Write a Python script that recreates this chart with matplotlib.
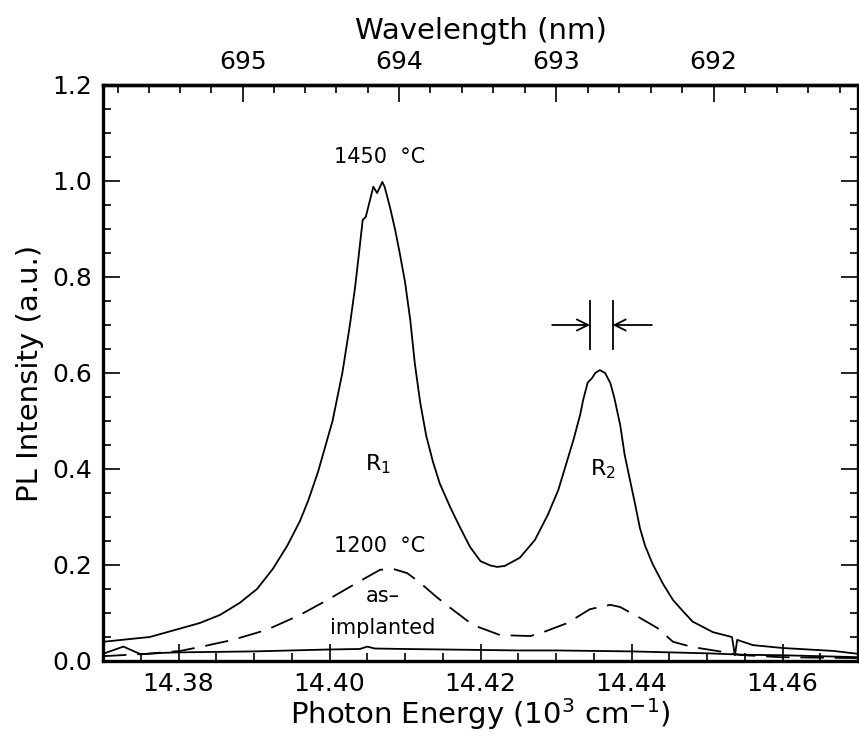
import matplotlib
matplotlib.use("Agg")
import matplotlib.pyplot as plt
from matplotlib.ticker import MultipleLocator, FixedLocator

# ---- data ----
E_1450 = [14.3700, 14.3762, 14.3828, 14.3855, 14.3881, 14.3904, 14.3925, 14.3944, 14.3961, 14.3972,
          14.3985, 14.4004, 14.4017, 14.4027, 14.4034, 14.4038, 14.4044, 14.4048, 14.4056, 14.4058,
          14.4063, 14.4070, 14.4073, 14.4080, 14.4087, 14.4093, 14.4100, 14.4107, 14.4113, 14.4120,
          14.4128, 14.4137, 14.4146, 14.4160, 14.4173, 14.4186, 14.4200, 14.4213,
          14.4222, 14.4232, 14.4252, 14.4272, 14.4289, 14.4303, 14.4313, 14.4323, 14.4332, 14.4336,
          14.4342, 14.4348, 14.4352, 14.4358, 14.4365, 14.4372, 14.4377, 14.4385, 14.4391, 14.4398,
          14.4405, 14.4411, 14.4418, 14.4428, 14.4442, 14.4455, 14.4468, 14.4481, 14.4508, 14.4533,
          14.4537, 14.4540, 14.4561, 14.4601, 14.4623, 14.4667, 14.4700]
I_1450 = [0.040, 0.050, 0.079, 0.096, 0.121, 0.150, 0.192, 0.240, 0.292, 0.335,
          0.395, 0.500, 0.600, 0.700, 0.780, 0.835, 0.919, 0.925, 0.975, 0.988,
          0.975, 0.998, 0.988, 0.946, 0.898, 0.850, 0.790, 0.710, 0.620, 0.540,
          0.470, 0.415, 0.370, 0.320, 0.278, 0.238, 0.208, 0.199,
          0.196, 0.198, 0.215, 0.252, 0.304, 0.356, 0.408, 0.460, 0.513, 0.544,
          0.580, 0.590, 0.600, 0.606, 0.600, 0.579, 0.550, 0.492, 0.429, 0.377,
          0.325, 0.278, 0.240, 0.202, 0.160, 0.127, 0.104, 0.082, 0.060, 0.050,
          0.012, 0.044, 0.033, 0.027, 0.025, 0.021, 0.015]

E_1200 = [14.370, 14.3758, 14.3802, 14.3828, 14.3872, 14.3917, 14.3961, 14.3997, 14.4031, 14.405,
          14.4067, 14.4084, 14.4103, 14.412, 14.4142, 14.4164, 14.419, 14.4226, 14.4266, 14.4283,
          14.4315, 14.4345, 14.4372, 14.4385, 14.4411, 14.4434, 14.4455, 14.4481, 14.4513, 14.4544,
          14.4597, 14.470]
I_1200 = [0.010, 0.015, 0.021, 0.029, 0.044, 0.065, 0.096, 0.127, 0.158, 0.175,
          0.190, 0.192, 0.183, 0.163, 0.133, 0.106, 0.075, 0.054, 0.052, 0.060,
          0.079, 0.108, 0.117, 0.1125, 0.090, 0.069, 0.040, 0.029, 0.021, 0.0125,
          0.008, 0.006]

E_asimp = [14.370, 14.3727, 14.375, 14.378, 14.380, 14.385, 14.390, 14.395, 14.400, 14.404,
           14.405, 14.406, 14.410, 14.415, 14.420, 14.425, 14.430, 14.435, 14.440, 14.445,
           14.450, 14.455, 14.460, 14.465, 14.470]
I_asimp = [0.015, 0.030, 0.014, 0.017, 0.018, 0.019, 0.020, 0.022, 0.024, 0.025,
           0.030, 0.026, 0.025, 0.024, 0.023, 0.022, 0.022, 0.021, 0.020, 0.018,
           0.016, 0.013, 0.012, 0.010, 0.008]

x_ticks = [14.38, 14.40, 14.42, 14.44, 14.46]
y_ticks = [0.0, 0.2, 0.4, 0.6, 0.8, 1.0, 1.2]
wl_ticks = [695, 694, 693, 692]

fs = 18
lfs = 21
plt.rcParams['font.family'] = ['DejaVu Sans']

fig = plt.figure(figsize=(8.59, 7.36), dpi=100)
ax = fig.add_axes([103/859, 75/736, 755/859, 576/736])

ax.plot(E_1450, I_1450, color='black', lw=1.3)
ax.plot(E_1200, I_1200, color='black', lw=1.3, linestyle=(0, (13, 6)))
ax.plot(E_asimp, I_asimp, color='black', lw=1.3)

ax.set_xlim(14.37, 14.47)
ax.set_ylim(0, 1.2)

ax.xaxis.set_major_locator(FixedLocator(x_ticks))
ax.xaxis.set_minor_locator(MultipleLocator(0.005))
ax.yaxis.set_major_locator(FixedLocator(y_ticks))
ax.yaxis.set_minor_locator(MultipleLocator(0.05))
ax.set_xticklabels([f"{v:.2f}" for v in x_ticks])
ax.set_yticklabels([f"{v:.1f}" for v in y_ticks])

ax.tick_params(which='both', direction='in', top=False, right=True, bottom=True, left=True,
               labelsize=fs, width=1.2)
ax.tick_params(which='major', length=12, pad=8)
ax.tick_params(which='minor', length=6)
for s in ax.spines.values():
    s.set_linewidth(2.4)

ax.set_xlabel("Photon Energy (10$^3$ cm$^{-1}$)", fontsize=lfs, labelpad=0)
ax.set_ylabel("PL Intensity (a.u.)", fontsize=lfs, labelpad=6)

sec = ax.secondary_xaxis('top', functions=(lambda e: 1e4 / e, lambda l: 1e4 / l))
sec.xaxis.set_major_locator(FixedLocator(wl_ticks))
sec.xaxis.set_minor_locator(MultipleLocator(0.2))
sec.tick_params(which='both', direction='in', labelsize=fs, width=1.2)
sec.tick_params(which='major', length=12, pad=8)
sec.tick_params(which='minor', length=6)
sec.set_xticklabels([str(v) for v in wl_ticks])
sec.set_xlabel("Wavelength (nm)", fontsize=lfs, labelpad=8)
sec.spines['top'].set_linewidth(2.4)

tfs = 15
ax.text(14.4066, 1.05, "1450  °C", fontsize=tfs, ha='center', va='center')
ax.text(14.4064, 0.41, "R$_1$", fontsize=tfs + 1, ha='center', va='center')
ax.text(14.4362, 0.40, "R$_2$", fontsize=tfs + 1, ha='center', va='center')
ax.text(14.4067, 0.24, "1200  °C", fontsize=tfs, ha='center', va='center')
ax.text(14.4071, 0.135, "as\u2013", fontsize=tfs, ha='center', va='center')
ax.text(14.4071, 0.068, "implanted", fontsize=tfs, ha='center', va='center')

# FWHM marker
xl, xr = 14.4345, 14.4375
ax.plot([xl, xl], [0.65, 0.75], color='black', lw=1.3)
ax.plot([xr, xr], [0.65, 0.75], color='black', lw=1.3)
ax.annotate("", xy=(xl, 0.70), xytext=(14.4295, 0.70),
            arrowprops=dict(arrowstyle='->', color='black', lw=1.3, shrinkA=0, shrinkB=0,
                            mutation_scale=20))
ax.annotate("", xy=(xr, 0.70), xytext=(14.4427, 0.70),
            arrowprops=dict(arrowstyle='->', color='black', lw=1.3, shrinkA=0, shrinkB=0,
                            mutation_scale=20))

fig.savefig("out.png", dpi=100)
